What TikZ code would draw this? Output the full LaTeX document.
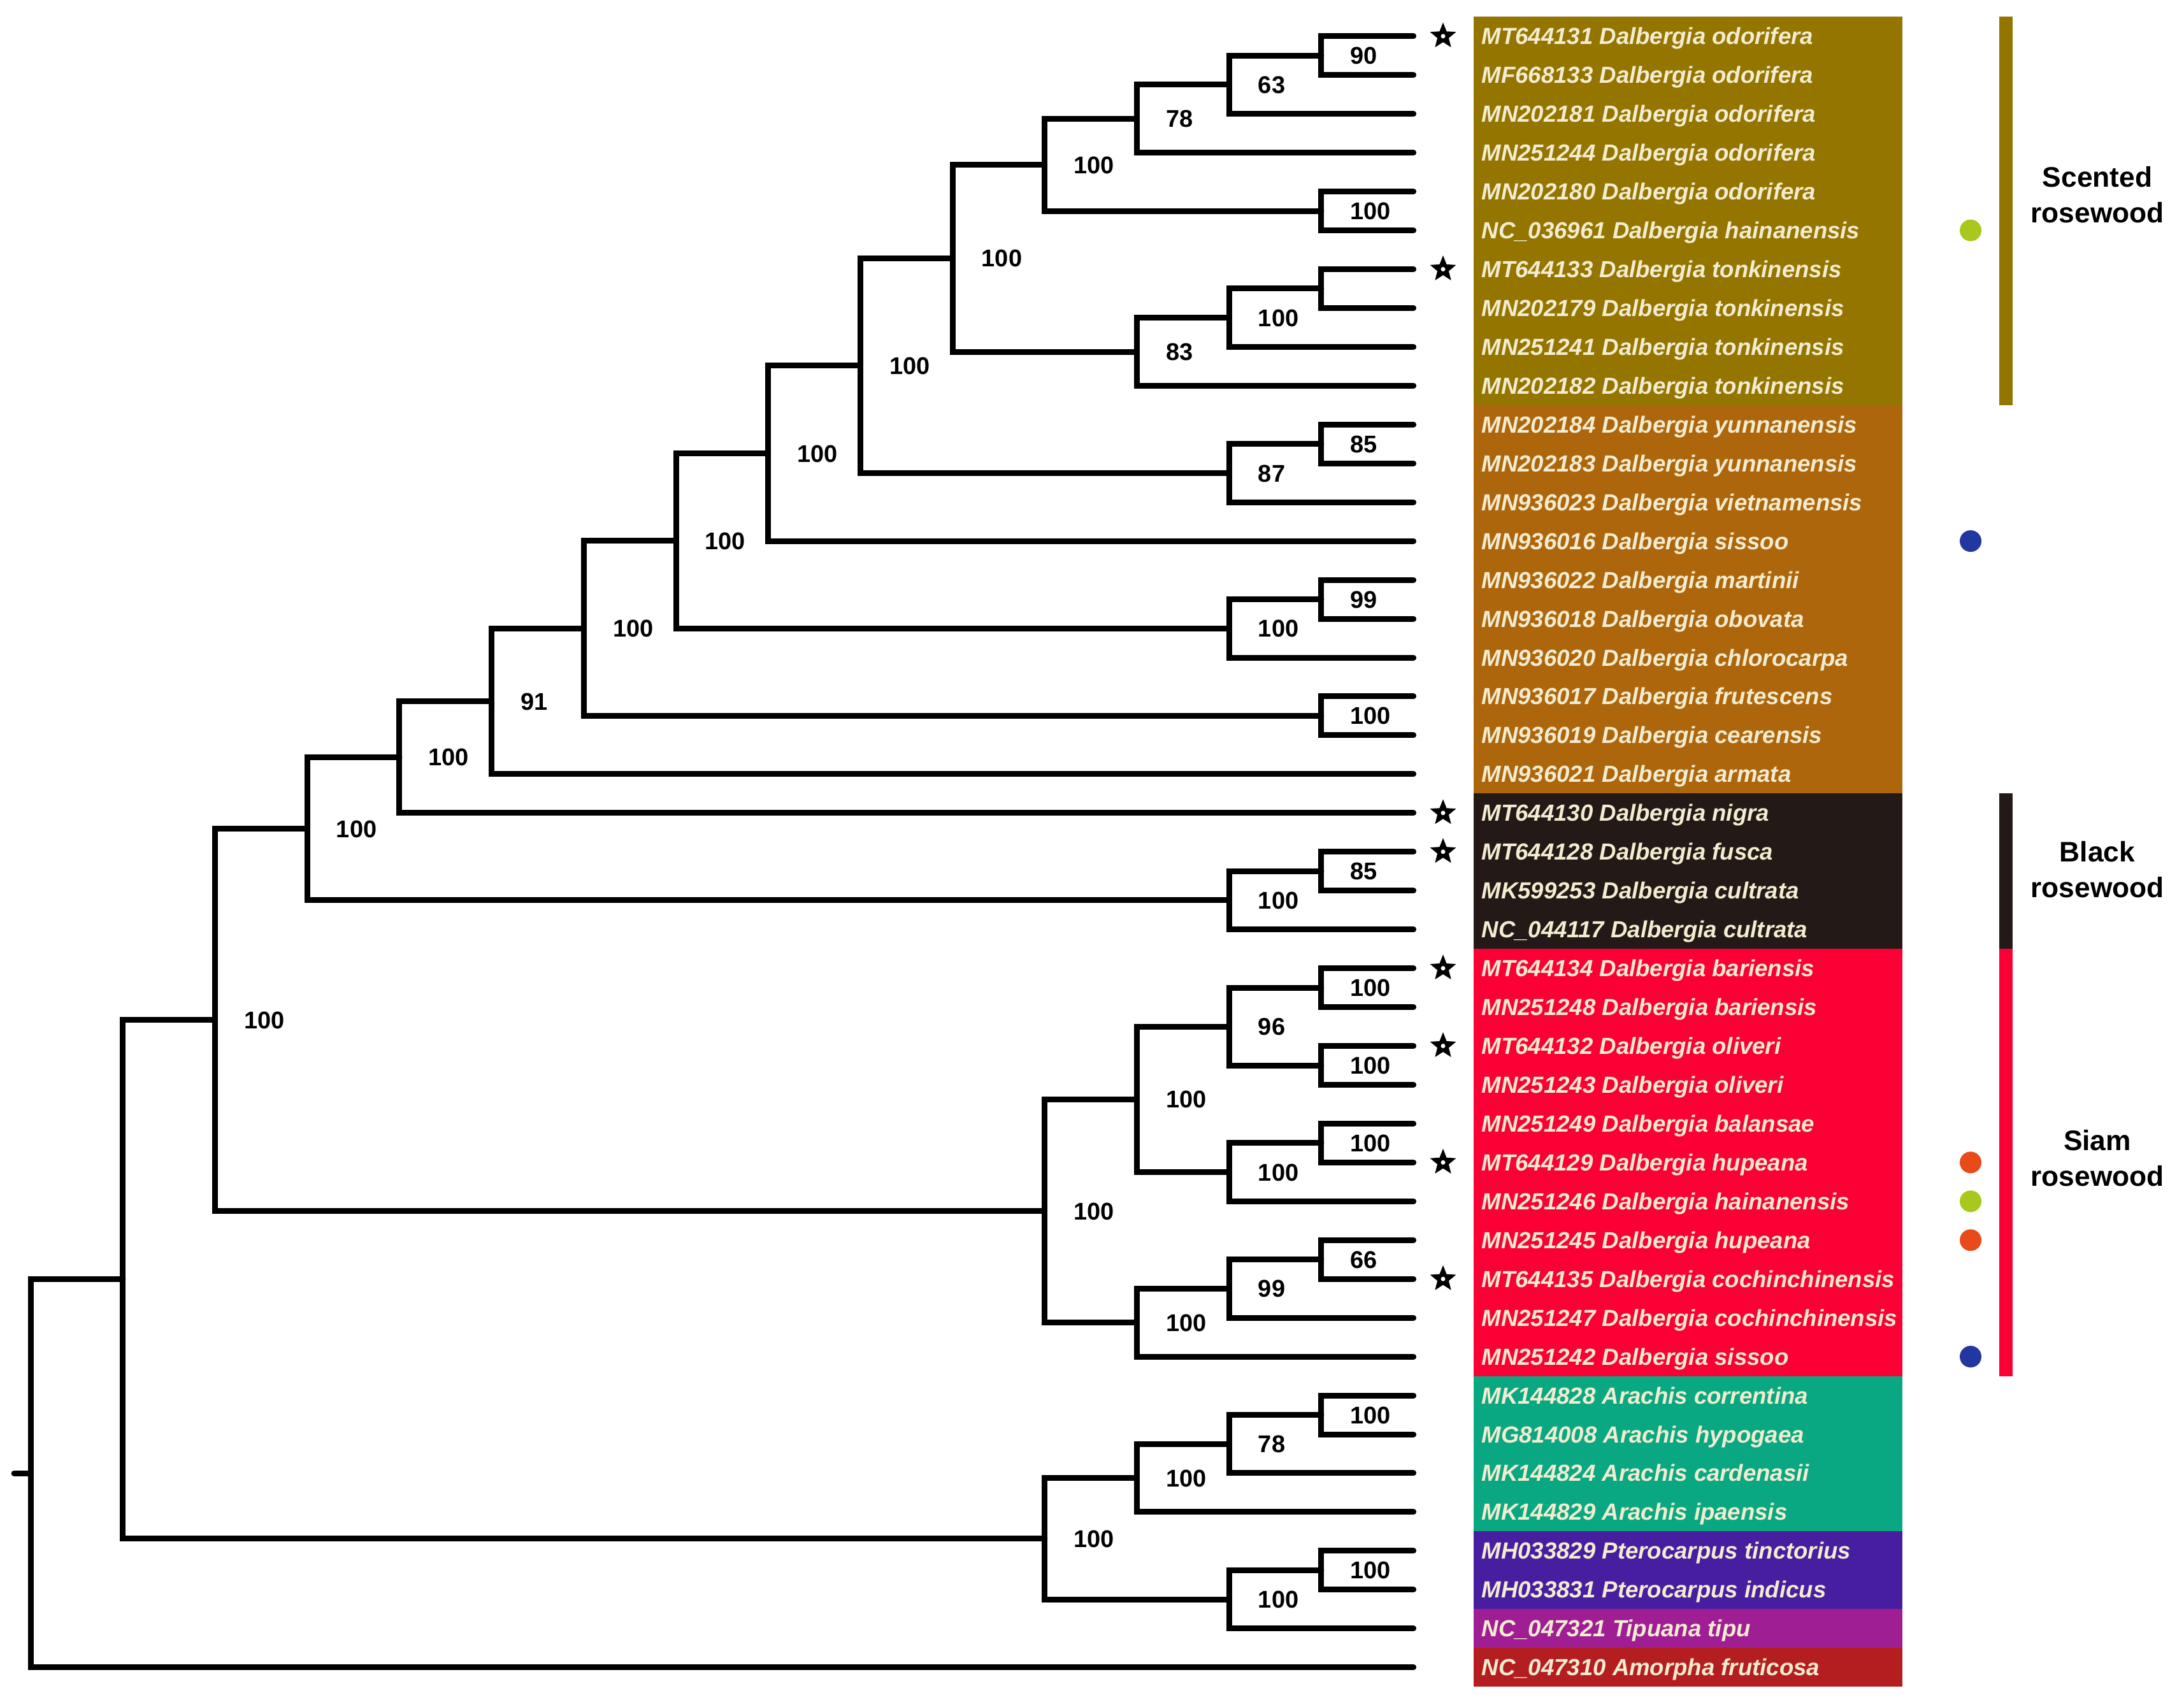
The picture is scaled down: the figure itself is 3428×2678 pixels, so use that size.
\documentclass[tikz,border=0pt]{standalone}
\usepackage{fontspec}
\setmainfont{Liberation Sans}
\usepackage{tikz}
\usetikzlibrary{calc}
\usetikzlibrary{shapes.geometric}
\usepackage{xcolor}

\definecolor{scented}{RGB}{148,117,0}
\definecolor{ochre}{RGB}{173,102,12}
\definecolor{blackwood}{RGB}{35,25,22}
\definecolor{siam}{RGB}{250,0,52}
\definecolor{arachis}{RGB}{10,168,130}
\definecolor{ptero}{RGB}{72,30,160}
\definecolor{tipu}{RGB}{160,30,148}
\definecolor{amorpha}{RGB}{180,30,32}
\definecolor{leaftext}{RGB}{242,236,208}
\definecolor{dotgreen}{RGB}{168,200,30}
\definecolor{dotblue}{RGB}{35,55,160}
\definecolor{dotorange}{RGB}{232,75,25}

\tikzset{
  branch/.style={line width=0.09cm, line cap=round, line join=miter},
  bs/.style={anchor=base west, inner sep=0, xshift=0.45cm, yshift=-0.135cm,
    font=\fontsize{10.8}{13}\selectfont\bfseries},
  leaf/.style={anchor=base west, inner sep=0, text=leaftext,
    font=\fontsize{10.4}{13}\selectfont\bfseries\itshape},
  tagstar/.style={star, star points=5, star point ratio=2.3, fill=black,
    minimum size=0.43cm, inner sep=0},
  dot/.style={circle, minimum size=0.34cm, inner sep=0},
  grp/.style={align=center, inner sep=0, font=\fontsize{12.6}{15.9}\selectfont\bfseries}
}

\begin{document}
\begin{tikzpicture}[x=0.01cm, y=-0.01cm]
  \useasboundingbox (0,0) rectangle (3428,2678);

  % coloured bands behind the names
  \foreach \a/\b/\c in {1/10/scented, 11/20/ochre, 21/24/blackwood, 25/35/siam,
                        36/39/arachis, 40/41/ptero, 42/42/tipu, 43/43/amorpha}
    \fill[\c] (2313, {26.3+(\a-1)*60.95}) rectangle (2986, {26.3+\b*60.95});

  % levels and leaf tips
  \foreach \k in {0,...,15}
    \coordinate (v\k) at ({48.1+144.7*\k}, 0);
  \foreach \i in {1,...,43}
    \coordinate (l\i) at (2218.6, {56.8+(\i-1)*60.95});

  % clades: name/level/child/child/support
  \foreach \n/\lv/\a/\b/\s in {
      A/14/l1/l2/90, B/13/A/l3/63, C/12/B/l4/78, D/14/l5/l6/100, E/11/C/D/100,
      F/14/l7/l8/, G/13/F/l9/100, H/12/G/l10/83, I/10/E/H/100,
      J/14/l11/l12/85, K/13/J/l13/87, L/9/I/K/100, M/8/L/l14/100,
      N/14/l15/l16/99, O/13/N/l17/100, P/7/M/O/100, Q/14/l18/l19/100,
      R/6/P/Q/100, S/5/R/l20/91, T/4/S/l21/100,
      U/14/l22/l23/85, V/13/U/l24/100, W/3/T/V/100,
      X1/14/l25/l26/100, X2/14/l27/l28/100, X3/13/X1/X2/96,
      X4/14/l29/l30/100, X5/13/X4/l31/100, X6/12/X3/X5/100,
      X7/14/l32/l33/66, X8/13/X7/l34/99, X9/12/X8/l35/100, X10/11/X6/X9/100,
      Y/2/W/X10/100,
      Z1/14/l36/l37/100, Z2/13/Z1/l38/78, Z3/12/Z2/l39/100,
      Z4/14/l40/l41/100, Z5/13/Z4/l42/100, Z6/11/Z3/Z5/100,
      AA/1/Y/Z6/, R0/0/AA/l43/}
  {
    \coordinate (mid) at ($(\a)!0.5!(\b)$);
    \coordinate (\n) at (v\lv |- mid);
    \draw[branch] (\a) -| (\n) |- (\b);
    \node[bs] (b\n) at (\n) {\s};
  }
  \coordinate (stub) at ($(R0)+(-26,0)$);
  \draw[branch] (stub) -- (R0);

  % taxon names
  \foreach \i/\t in {
      1/MT644131 Dalbergia odorifera, 2/MF668133 Dalbergia odorifera,
      3/MN202181 Dalbergia odorifera, 4/MN251244 Dalbergia odorifera,
      5/MN202180 Dalbergia odorifera, 6/NC\_036961 Dalbergia hainanensis,
      7/MT644133 Dalbergia tonkinensis, 8/MN202179 Dalbergia tonkinensis,
      9/MN251241 Dalbergia tonkinensis, 10/MN202182 Dalbergia tonkinensis,
      11/MN202184 Dalbergia yunnanensis, 12/MN202183 Dalbergia yunnanensis,
      13/MN936023 Dalbergia vietnamensis, 14/MN936016 Dalbergia sissoo,
      15/MN936022 Dalbergia martinii, 16/MN936018 Dalbergia obovata,
      17/MN936020 Dalbergia chlorocarpa, 18/MN936017 Dalbergia frutescens,
      19/MN936019 Dalbergia cearensis, 20/MN936021 Dalbergia armata,
      21/MT644130 Dalbergia nigra, 22/MT644128 Dalbergia fusca,
      23/MK599253 Dalbergia cultrata, 24/NC\_044117 Dalbergia cultrata,
      25/MT644134 Dalbergia bariensis, 26/MN251248 Dalbergia bariensis,
      27/MT644132 Dalbergia oliveri, 28/MN251243 Dalbergia oliveri,
      29/MN251249 Dalbergia balansae, 30/MT644129 Dalbergia hupeana,
      31/MN251246 Dalbergia hainanensis, 32/MN251245 Dalbergia hupeana,
      33/MT644135 Dalbergia cochinchinensis, 34/MN251247 Dalbergia cochinchinensis,
      35/MN251242 Dalbergia sissoo, 36/MK144828 Arachis correntina,
      37/MG814008 Arachis hypogaea, 38/MK144824 Arachis cardenasii,
      39/MK144829 Arachis ipaensis, 40/MH033829 Pterocarpus tinctorius,
      41/MH033831 Pterocarpus indicus, 42/NC\_047321 Tipuana tipu,
      43/NC\_047310 Amorpha fruticosa}
    \node[leaf] (t\i) at (2325, {56.8+(\i-1)*60.95+13}) {\t};

  % newly sequenced
  \foreach \i in {1,7,21,22,25,27,30,33} {
    \node[tagstar] (s\i) at (2265, {56.8+(\i-1)*60.95}) {};
    \fill[white] (s\i) circle (0.035cm);
  }

  % species found in two places
  \foreach \i/\c in {6/dotgreen, 14/dotblue, 30/dotorange, 31/dotgreen, 32/dotorange, 35/dotblue}
    \node[dot, fill=\c] (d\i) at (3093, {56.8+(\i-1)*60.95}) {};

  % group bars
  \fill[scented] (3138, 26.3) rectangle (3159, 635.8);
  \fill[blackwood] (3138, 1245.3) rectangle (3159, 1489.1);
  \fill[siam] (3138, 1489.1) rectangle (3159, 2159.6);
  \node[grp] (gs) at (3292, 306) {Scented\\rosewood};
  \node[grp] (gb) at (3292, 1365) {Black\\rosewood};
  \node[grp] (gr) at (3292, 1818) {Siam\\rosewood};
\end{tikzpicture}
\end{document}
